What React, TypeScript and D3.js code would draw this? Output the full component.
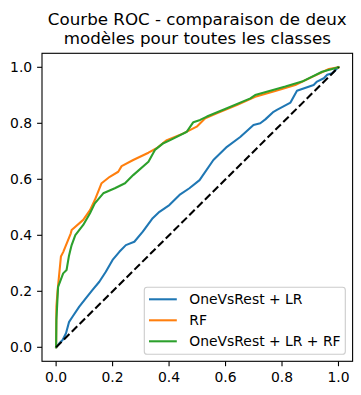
import React from "react";
import * as d3 from "d3";

const seriesNames = ["OneVsRest + LR", "RF", "OneVsRest + LR + RF"];
const seriesColors = ["#1f77b4", "#ff7f0e", "#2ca02c"];

const lrFpr = [0, 0.012, 0.023, 0.035, 0.046, 0.058, 0.082, 0.105, 0.129, 0.153, 0.176, 0.2, 0.224, 0.247, 0.277, 0.307, 0.342, 0.366, 0.401, 0.437, 0.472, 0.508, 0.557, 0.605, 0.652, 0.699, 0.723, 0.741, 0.77, 0.782, 0.83, 0.853, 0.912, 0.924, 0.948, 0.96, 0.978, 0.989, 1];
const lrTpr = [0, 0.015, 0.026, 0.05, 0.091, 0.109, 0.145, 0.175, 0.205, 0.234, 0.27, 0.312, 0.341, 0.365, 0.377, 0.413, 0.461, 0.484, 0.508, 0.544, 0.568, 0.597, 0.669, 0.716, 0.751, 0.794, 0.8, 0.814, 0.841, 0.848, 0.874, 0.916, 0.937, 0.949, 0.961, 0.973, 0.979, 0.99, 1];

const rfFpr = [0, 0.001, 0.005, 0.017, 0.025, 0.052, 0.055, 0.096, 0.12, 0.137, 0.161, 0.19, 0.22, 0.232, 0.273, 0.327, 0.356, 0.392, 0.451, 0.498, 0.528, 0.569, 0.64, 0.705, 0.776, 0.847, 0.907, 0.966, 1];
const rfTpr = [0, 0.145, 0.2, 0.324, 0.34, 0.407, 0.419, 0.455, 0.49, 0.526, 0.586, 0.609, 0.627, 0.647, 0.669, 0.695, 0.711, 0.74, 0.764, 0.788, 0.818, 0.836, 0.865, 0.895, 0.915, 0.937, 0.966, 0.994, 1];

const combFpr = [0, 0.001, 0.007, 0.025, 0.037, 0.045, 0.049, 0.055, 0.068, 0.096, 0.12, 0.137, 0.167, 0.208, 0.244, 0.273, 0.327, 0.35, 0.38, 0.404, 0.463, 0.486, 0.51, 0.534, 0.605, 0.688, 0.705, 0.812, 0.871, 0.942, 1];
const combTpr = [0, 0.097, 0.216, 0.264, 0.276, 0.324, 0.341, 0.365, 0.401, 0.437, 0.479, 0.514, 0.55, 0.568, 0.586, 0.615, 0.663, 0.705, 0.729, 0.74, 0.77, 0.804, 0.812, 0.824, 0.854, 0.889, 0.901, 0.931, 0.949, 0.984, 1];

const tickValues = [0, 0.2, 0.4, 0.6, 0.8, 1.0];
const titleLines = ["Courbe ROC - comparaison de deux", "modèles pour toutes les classes"];

export default function App() {
  const W = 361, H = 395;
  const left = 42, right = 352.6, top = 53.3, bottom = 361.3;
  const x = d3.scaleLinear().domain([-0.05, 1.05]).range([left, right]);
  const y = d3.scaleLinear().domain([-0.05, 1.05]).range([bottom, top]);
  const line = d3.line<[number, number]>().x((d) => x(d[0])).y((d) => y(d[1]));
  const series = [
    lrFpr.map((v, i) => [v, lrTpr[i]] as [number, number]),
    rfFpr.map((v, i) => [v, rfTpr[i]] as [number, number]),
    combFpr.map((v, i) => [v, combTpr[i]] as [number, number]),
  ];
  const font = "DejaVu Sans, sans-serif";
  const lw = 2.08;
  const legX = 144.3, legY = 287.3, legW = 201, legH = 67;
  return (
    <svg width={W} height={H} style={{ position: "absolute", left: 0, top: 0 }} fontFamily={font}>
      <rect x={0} y={0} width={W} height={H} fill="#fff" />
      {titleLines.map((t, i) => (
        <text key={i} x={(left + right) / 2} y={24.8 + i * 19.6} textAnchor="middle" fontSize={16.7} fill="#000">{t}</text>
      ))}
      {series.map((s, i) => (
        <path key={i} d={line(s) || ""} fill="none" stroke={seriesColors[i]} strokeWidth={lw} strokeLinejoin="round" strokeLinecap="square" />
      ))}
      <path d={line([[0, 0], [1, 1]]) || ""} fill="none" stroke="#000" strokeWidth={lw} strokeDasharray="7.7 3.33" />
      <rect x={left} y={top} width={right - left} height={bottom - top} fill="none" stroke="#000" strokeWidth={1.1} />
      {tickValues.map((t) => (
        <g key={"x" + t}>
          <line x1={x(t)} x2={x(t)} y1={bottom} y2={bottom + 4.9} stroke="#000" strokeWidth={1.1} />
          <text x={x(t)} y={bottom + 20.5} textAnchor="middle" fontSize={13.9} fill="#000">{t.toFixed(1)}</text>
        </g>
      ))}
      {tickValues.map((t) => (
        <g key={"y" + t}>
          <line x1={left} x2={left - 4.9} y1={y(t)} y2={y(t)} stroke="#000" strokeWidth={1.1} />
          <text x={left - 9.8} y={y(t) + 5} textAnchor="end" fontSize={13.9} fill="#000">{t.toFixed(1)}</text>
        </g>
      ))}
      <rect x={legX} y={legY} width={legW} height={legH} rx={2.8} ry={2.8} fill="#fff" fillOpacity={0.8} stroke="#cccccc" strokeWidth={1.1} />
      {seriesNames.map((n, i) => {
        const cy = 299.3 + i * 21;
        return (
          <g key={n}>
            <line x1={149} x2={176.8} y1={cy} y2={cy} stroke={seriesColors[i]} strokeWidth={lw} />
            <text x={189.3} y={cy + 5} fontSize={13.9} fill="#000">{n}</text>
          </g>
        );
      })}
    </svg>
  );
}
